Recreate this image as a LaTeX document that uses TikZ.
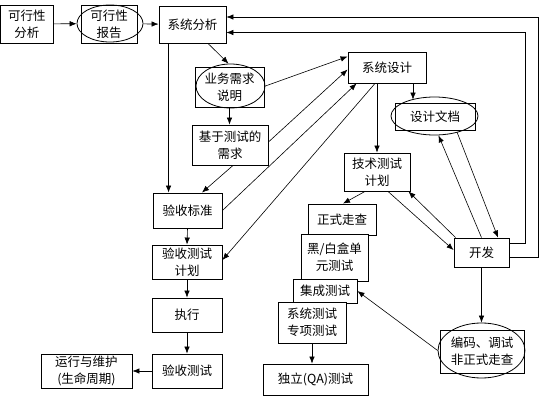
\documentclass[tikz,border=0pt]{standalone}
\usepackage{fontspec}
\setmainfont{Noto Sans CJK SC}
\usetikzlibrary{arrows.meta,shapes.geometric}
\begin{document}
\begin{tikzpicture}[x=1pt,y=-1pt,
  box/.style={draw, line width=0.9pt, fill=white, inner sep=0pt, align=center,
    font=\fontsize{12.5}{17}\selectfont},
  ell/.style={draw, ellipse, line width=0.8pt, inner sep=0pt},
  arr/.style={-{Latex[length=7pt,width=5.5pt]}, line width=0.6pt},
  ]
\fill[white] (0,0) rectangle (550,402);
\useasboundingbox (0,0) rectangle (550,402);

% boxes
\node[box, minimum width=53pt, minimum height=38pt] (kxfx) at (26.9,24) {可行性\\分析};
\node[box, minimum width=56pt, minimum height=38pt] (kxbg) at (109,24) {可行性\\报告};
\node[ell, minimum width=66pt, minimum height=37pt] (kxbgE) at (110,23.5) {};
\node[box, minimum width=67pt, minimum height=37pt] (xtfx) at (192.5,24.5) {系统分析};
\node[box, minimum width=69pt, minimum height=40pt] (ywxq) at (229.5,87) {业务需求\\说明};
\node[ell, minimum width=69pt, minimum height=44pt] (ywxqE) at (230.5,86) {};
\node[box, minimum width=76pt, minimum height=40pt] (jycs) at (230,145) {基于测试的\\需求};
\node[box, minimum width=69pt, minimum height=35pt] (ysbz) at (187.5,210.5) {验收标准};
\node[box, minimum width=70pt, minimum height=34pt] (yscsjh) at (187,262) {验收测试\\计划};
\node[box, minimum width=70pt, minimum height=34pt] (zx) at (187,315) {执行};
\node[box, minimum width=70pt, minimum height=34pt] (yscs) at (187,371) {验收测试};
\node[box, minimum width=91pt, minimum height=34pt] (yxwh) at (86.5,371) {运行与维护\\(生命周期)};
\node[box, minimum width=78pt, minimum height=31pt] (xtsj) at (387,67.5) {系统设计};
\node[box, minimum width=80pt, minimum height=27pt] (sjwd) at (435,116.5) {设计文档};
\node[ell, minimum width=87pt, minimum height=38pt] (sjwdE) at (434.5,116) {};
\node[box, minimum width=66pt, minimum height=38pt] (jscsjh) at (377,172) {技术测试\\计划};
\node[box, minimum width=68pt, minimum height=31pt] (zszc) at (342,219.5) {正式走查};
\node[box, minimum width=67pt, minimum height=47pt] (hbh) at (334.5,257.5) {黑/白盒单\\元测试};
\node[box, minimum width=64pt, minimum height=24pt] (jc) at (325,291) {集成测试};
\node[box, minimum width=68pt, minimum height=41pt] (xtcs) at (312,322.5) {系统测试\\专项测试};
\node[box, minimum width=105pt, minimum height=31pt] (dl) at (315.5,379.5) {独立(QA)测试};
\node[box, minimum width=55pt, minimum height=29pt] (kf) at (481.5,252.5) {开发};
\node[box, minimum width=84pt, minimum height=43pt] (bm) at (482,351.5) {编码、调试\\非正式走查};
\node[ell, minimum width=87pt, minimum height=55pt] (bmE) at (481.5,350.5) {};

% connectors
\draw[arr] (kxfx) -- (kxbgE);
\draw[arr] (kxbgE) -- (xtfx);
\draw[arr] ([xshift=15.5pt]xtfx.south) -- ([xshift=-2pt]ywxqE.north);
\draw[arr] ([xshift=10pt]xtfx.south west) -- ([xshift=16pt]ysbz.north west);
\draw[arr] (ywxq.south) -- (ywxq.south |- jycs.north);
\draw[arr] ([xshift=3pt]jycs.south) -- ([xshift=14.5pt]ysbz.north);
\draw[arr] (ywxqE.east) -- ([yshift=-5pt]xtsj.north west);
\draw[arr] ([yshift=3pt]jycs.east) -- ([yshift=-18pt]xtsj.north west);
\draw[arr] (ysbz.east) -- ([xshift=9pt]xtsj.south west);
\draw[arr] ([xshift=-12pt]xtsj.south) -- ([yshift=2pt]yscsjh.east);
\draw[arr] ([xshift=-10pt]xtsj.south) -- (jscsjh.north);
\draw[arr] ([xshift=26pt]xtsj.south) -- ([xshift=-21.5pt,yshift=-3pt]sjwdE.north);
\draw[arr] ([xshift=-12pt]jscsjh.south) -- ([xshift=1pt]zszc.north);
\draw[arr] ([xshift=11pt]jscsjh.south) -- ([yshift=2.5pt]kf.west);
\draw[arr] ([xshift=2pt]kf.north west) -- ([xshift=-2pt]jscsjh.south east);
\draw[arr] (kf.north) -- ([xshift=4pt]sjwdE.south);
\draw[arr] ([xshift=22.5pt,yshift=-16pt]sjwdE.center) -- ([xshift=16.5pt]kf.north);
\draw[arr] (kf.south) -- (bmE.north);
\draw[arr] (bmE.west) -- (jc.east);
\draw[arr] (xtcs.south) -- (xtcs.south |- dl.north);
\draw[arr] (ysbz.south) -- (yscsjh.north);
\draw[arr] (yscsjh.south) -- (zx.north);
\draw[arr] (zx.south) -- (yscs.north);
\draw[arr] (yscs.west) -- (yxwh.east);
\draw[arr] ([yshift=9.5pt]kf.east) -- ++(16,0) |- ([yshift=-8pt]xtfx.east);
\draw[arr] ([yshift=-4.5pt]kf.east) -- ++(29,0) |- ([yshift=7.5pt]xtfx.east);
\end{tikzpicture}
\end{document}
